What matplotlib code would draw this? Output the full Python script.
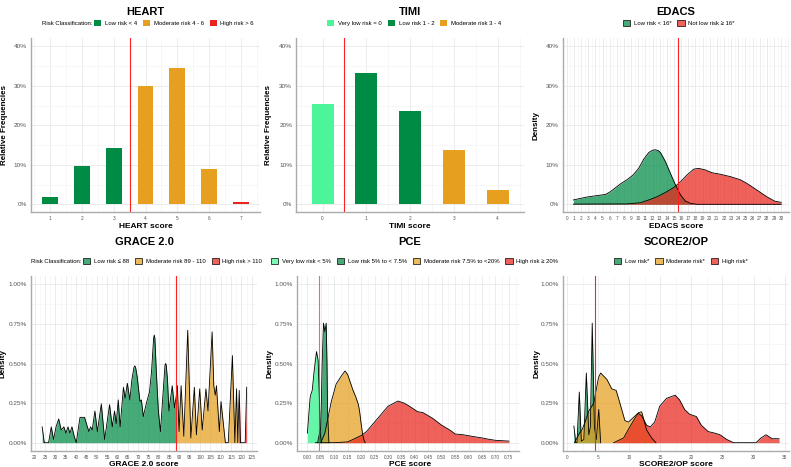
import numpy as np
import matplotlib
matplotlib.use('Agg')
import matplotlib.pyplot as plt
from matplotlib.patches import Patch
from matplotlib.ticker import MultipleLocator, FuncFormatter

plt.rcParams['font.family'] = ['Liberation Sans', 'DejaVu Sans']

# colours used by the risk classes
GREEN = '#008B45'
ORANGE = '#E69F1E'
RED = '#E8251C'
MINT = '#4CF59A'
FILL_ALPHA = 0.72

# ---- HEART (relative frequencies, %) ----
heart_scores = [1, 2, 3, 4, 5, 6, 7]
heart_pct = [1.9, 9.7, 14.3, 29.9, 34.4, 8.9, 0.7]
heart_class = ['low', 'low', 'low', 'mod', 'mod', 'mod', 'high']
heart_cut = 3.5

# ---- TIMI (relative frequencies, %) ----
timi_scores = [0, 1, 2, 3, 4]
timi_pct = [25.4, 33.2, 23.5, 13.8, 3.5]
timi_class = ['vlow', 'low', 'low', 'mod', 'mod']
timi_cut = 0.5

# ---- EDACS densities (%) ----
edacs_low_x = [0.9, 1.9, 3.0, 4.2, 5.4, 6.1, 6.8, 7.6, 8.4, 9.25, 10.05, 10.75, 11.45,
               12.0, 12.4, 12.8, 13.1, 13.8, 14.5, 15.2, 15.9, 16.6, 17.3, 18.2, 30.0]
edacs_low_y = [1.1, 1.5, 1.9, 2.2, 2.5, 3.2, 4.2, 5.3, 6.2, 7.4, 9.1, 11.4, 13.1,
               13.7, 13.8, 13.6, 13.1, 10.8, 7.8, 4.9, 2.4, 0.8, 0.25, 0.0, 0.0]
edacs_high_x = [0.9, 8.4, 10.3, 11.45, 12.6, 13.8, 15.0, 15.9, 16.8, 17.75, 18.45, 19.4,
                20.3, 21.5, 22.9, 24.3, 25.2, 26.2, 27.1, 28.0, 29.1, 30.0]
edacs_high_y = [0.05, 0.1, 0.4, 1.1, 1.9, 3.0, 4.3, 5.7, 7.4, 8.9, 9.1, 8.7,
                8.0, 7.6, 7.0, 6.2, 5.3, 4.1, 3.0, 1.9, 0.8, 0.5]
edacs_cut = 15.5

# ---- GRACE 2.0 density (%) ----
grace_x = [23.6, 24.6, 26.7, 28.0, 29.1, 30.3, 31.6, 32.8, 34.1, 35.1, 36.1, 37.0, 38.0,
           39.1, 40.1, 41.2, 41.9, 44.1, 45.0, 46.2, 47.0, 47.8, 49.1, 50.3, 52.2, 53.8,
           56.2, 57.5, 58.6, 59.4, 60.4, 61.3, 62.9, 63.7, 64.8, 66.0, 67.0, 68.0, 68.4,
           68.8, 69.5, 70.9, 71.6, 72.5, 74.0, 75.5, 76.5, 77.5, 77.8, 78.1, 78.8, 79.8,
           80.8, 82.0, 83.0, 83.3, 83.6, 84.2, 84.9, 86.5, 87.6, 88.5, 89.0, 89.8, 90.8,
           92.1, 94.0, 95.5, 97.2, 98.2, 99.8, 101.0, 102.8, 103.8, 105.8, 106.6, 107.3,
           107.9, 109.3, 110.1, 112.2, 113.6, 115.6, 116.8, 117.6, 118.2, 118.5, 118.9,
           119.5, 121.8, 122.5]
grace_y = [0.10, 0.0, 0.0, 0.10, 0.02, 0.10, 0.15, 0.08, 0.10, 0.06, 0.10, 0.06, 0.10,
           0.04, 0.0, 0.10, 0.16, 0.16, 0.12, 0.07, 0.10, 0.08, 0.20, 0.07, 0.245, 0.02,
           0.24, 0.10, 0.20, 0.12, 0.27, 0.10, 0.35, 0.28, 0.375, 0.27, 0.40, 0.475, 0.485,
           0.475, 0.42, 0.26, 0.27, 0.165, 0.25, 0.32, 0.45, 0.66, 0.68, 0.66, 0.45, 0.20,
           0.07, 0.30, 0.49, 0.50, 0.49, 0.40, 0.20, 0.36, 0.22, 0.30, 0.36, 0.07, 0.36,
           0.04, 0.71, 0.03, 0.35, 0.05, 0.34, 0.08, 0.34, 0.20, 0.70, 0.36, 0.30,
           0.36, 0.07, 0.26, 0.0, 0.0, 0.55, 0.0, 0.34, 0.0, 0.15, 0.33,
           0.0, 0.0, 0.35]
grace_low_max = 88.5
grace_mod_max = 118.5
grace_cut = 88.5

# ---- PCE densities (%) ----
pce_vlow_x = [0.0, 0.01, 0.012, 0.018, 0.025, 0.034, 0.04, 0.044, 0.048, 0.052]
pce_vlow_y = [0.06, 0.28, 0.30, 0.33, 0.45, 0.575, 0.52, 0.31, 0.06, 0.0]
pce_low_x = [0.038, 0.05, 0.055, 0.06, 0.065, 0.07, 0.073, 0.075, 0.08]
pce_low_y = [0.0, 0.1, 0.5, 0.755, 0.70, 0.755, 0.5, 0.2, 0.0]
pce_mod_x = [0.05, 0.065, 0.077, 0.089, 0.107, 0.126, 0.14, 0.15, 0.16, 0.17, 0.18,
             0.19, 0.195, 0.2, 0.205, 0.21, 0.215]
pce_mod_y = [0.0, 0.06, 0.16, 0.26, 0.37, 0.42, 0.453, 0.43, 0.38, 0.33, 0.29,
             0.24, 0.19, 0.12, 0.06, 0.02, 0.0]
pce_high_x = [0.03, 0.1, 0.15, 0.2, 0.22, 0.25, 0.28, 0.3, 0.337, 0.36, 0.38, 0.41,
              0.43, 0.466, 0.5, 0.53, 0.55, 0.58, 0.62, 0.65, 0.68, 0.7, 0.73, 0.75]
pce_high_y = [0.0, 0.0, 0.005, 0.045, 0.07, 0.13, 0.19, 0.23, 0.263, 0.25, 0.23, 0.196,
              0.19, 0.154, 0.11, 0.08, 0.055, 0.05, 0.038, 0.03, 0.02, 0.015, 0.012, 0.01]
pce_cut = 0.044

# ---- SCORE2/OP densities (%) ----
score_low_x = [1.1, 1.4, 1.6, 1.97, 2.3, 2.7, 3.1, 3.5, 3.75, 4.05, 4.4, 4.7, 5.1, 5.4]
score_low_y = [0.105, 0.0, 0.0, 0.32, 0.01, 0.02, 0.44, 0.05, 0.1, 0.755, 0.1, 0.02, 0.21, 0.0]
score_mod_x = [1.2, 2.0, 2.4, 2.9, 3.5, 4.3, 5.05, 5.4, 6.4, 7.2, 7.9, 8.5, 9.3, 9.85,
               10.7, 11.5, 12.0, 12.8, 13.6, 14.3]
score_mod_y = [0.0, 0.06, 0.08, 0.13, 0.2, 0.25, 0.41, 0.44, 0.40, 0.34, 0.33, 0.25, 0.14,
               0.13, 0.16, 0.19, 0.195, 0.08, 0.03, 0.0]
score_high_x = [7.5, 9.1, 10.1, 11.0, 11.5, 12.0, 12.8, 13.4, 14.1, 14.9, 16.0, 17.4, 18.1,
                18.9, 19.7, 20.8, 21.6, 22.7, 23.8, 24.6, 25.7, 26.8, 30.4, 31.2, 32.0,
                33.0, 34.1]
score_high_y = [0.0, 0.03, 0.1, 0.16, 0.185, 0.17, 0.11, 0.10, 0.13, 0.23, 0.28, 0.30, 0.27,
                0.21, 0.18, 0.165, 0.11, 0.07, 0.06, 0.05, 0.02, 0.0, 0.0, 0.03, 0.05,
                0.025, 0.025]
score_cut = 4.5

CLASS_COLORS = {'vlow': MINT, 'low': GREEN, 'mod': ORANGE, 'high': RED}

W, H = 791, 467


def fx(px):
    return px / W


def fy(py):
    return 1 - py / H


def make_axes(fig, left, top, right, bottom):
    ax = fig.add_axes([fx(left), fy(bottom), (right - left) / W, (bottom - top) / H])
    for s in ['top', 'right']:
        ax.spines[s].set_visible(False)
    for s in ['left', 'bottom']:
        ax.spines[s].set_color('#ABABAB')
        ax.spines[s].set_linewidth(1.0)
    ax.grid(which='major', color='#E4E4E4', lw=0.5)
    ax.grid(which='minor', color='#F1F1F1', lw=0.4)
    ax.set_axisbelow(True)
    ax.tick_params(which='both', length=0, colors='#555555')
    ax.tick_params(axis='y', labelsize=4.6, pad=3)
    ax.tick_params(axis='x', labelsize=3.4, pad=3)
    return ax


def pct_fmt(decimals):
    return FuncFormatter(lambda v, p: f'{v:.{decimals}f}%')


def add_texts(fig, title, xlabel, ylabel, cx, title_y, xlabel_y, ylabel_x, mid_y):
    fig.text(fx(cx), fy(title_y), title, ha='center', va='center',
             fontsize=8, fontweight='bold')
    fig.text(fx(cx), fy(xlabel_y), xlabel, ha='center', va='center',
             fontsize=6, fontweight='bold')
    fig.text(fx(ylabel_x), fy(mid_y), ylabel, ha='center', va='center',
             rotation=90, fontsize=5.8, fontweight='bold')


def add_legend(fig, items, key_x, y, edge=None, title=None):
    # density legends get the same transparency as the filled areas
    alpha = FILL_ALPHA if edge else 1
    handles = [Patch(facecolor=matplotlib.colors.to_rgba(c, alpha),
                     edgecolor=edge if edge else c,
                     linewidth=0.5 if edge else 0) for c, _ in items]
    labels = [l for _, l in items]
    fig.legend(handles, labels, loc='center left', bbox_to_anchor=(fx(key_x), fy(y)),
               ncol=len(items), frameon=False, fontsize=4.3, handlelength=1.2,
               handleheight=1.2, handletextpad=0.6, columnspacing=1.0,
               borderpad=0, borderaxespad=0)
    if title:
        fig.text(fx(key_x - 2), fy(y + 0.8), title, ha='right', va='center', fontsize=4.3)


def draw_density(ax, x, y, color, alpha=FILL_ALPHA):
    ax.fill_between(x, y, 0, color=color, alpha=alpha, lw=0)
    ax.plot(x, y, color='black', lw=0.6, solid_joinstyle='round')


fig = plt.figure(figsize=(W / 100, H / 100), dpi=100)

# ================= top row =================
top, bottom = 38.4, 212.2
mid_top = (top + bottom) / 2

# HEART
ax = make_axes(fig, 31, top, 260, bottom)
ax.bar(heart_scores, heart_pct, width=0.5,
       color=[CLASS_COLORS[c] for c in heart_class])
ax.axvline(heart_cut, color='#FF2020', lw=0.8)
ax.set_xlim(0.4, 7.6)
ax.set_ylim(-2, 42)
ax.set_xticks(heart_scores)
ax.xaxis.set_minor_locator(MultipleLocator(0.5))
ax.yaxis.set_major_locator(MultipleLocator(10))
ax.yaxis.set_minor_locator(MultipleLocator(5))
ax.yaxis.set_major_formatter(pct_fmt(0))
add_texts(fig, 'HEART', 'HEART score', 'Relative Frequencies', 145.5, 12, 226, 5, mid_top)
add_legend(fig, [(GREEN, 'Low risk < 4'), (ORANGE, 'Moderate risk 4 - 6'), (RED, 'High risk > 6')],
           94, 22.7, title='Risk Classification:')

# TIMI
ax = make_axes(fig, 296.3, top, 524, bottom)
ax.bar(timi_scores, timi_pct, width=0.5,
       color=[CLASS_COLORS[c] for c in timi_class])
ax.axvline(timi_cut, color='#FF2020', lw=0.8)
ax.set_xlim(-0.6, 4.6)
ax.set_ylim(-2, 42)
ax.set_xticks(timi_scores)
ax.xaxis.set_minor_locator(MultipleLocator(0.5))
ax.yaxis.set_major_locator(MultipleLocator(10))
ax.yaxis.set_minor_locator(MultipleLocator(5))
ax.yaxis.set_major_formatter(pct_fmt(0))
add_texts(fig, 'TIMI', 'TIMI score', 'Relative Frequencies', 410, 12, 226, 269, mid_top)
add_legend(fig, [(MINT, 'Very low risk = 0'), (GREEN, 'Low risk 1 - 2'), (ORANGE, 'Moderate risk 3 - 4')],
           327.3, 22.7)

# EDACS
ax = make_axes(fig, 563, top, 789, bottom)
draw_density(ax, edacs_low_x, edacs_low_y, GREEN)
draw_density(ax, edacs_high_x, edacs_high_y, RED)
ax.axvline(edacs_cut, color='#FF2020', lw=0.8)
ax.set_xlim(-0.55, 31.1)
ax.set_ylim(-2, 42)
ax.set_xticks(range(0, 31))
ax.xaxis.set_minor_locator(MultipleLocator(0.5))
ax.yaxis.set_major_locator(MultipleLocator(10))
ax.yaxis.set_minor_locator(MultipleLocator(5))
ax.yaxis.set_major_formatter(pct_fmt(0))
add_texts(fig, 'EDACS', 'EDACS score', 'Density', 676, 12, 226, 536, mid_top)
add_legend(fig, [(GREEN, 'Low risk < 16*'), (RED, 'Not low risk \u2265 16*')],
           623, 22.7, edge='black')

# ================= bottom row =================
top, bottom = 276.4, 450.6
mid_bot = (top + bottom) / 2

# GRACE 2.0
ax = make_axes(fig, 31, top, 257, bottom)
gx = np.array(grace_x)
gy = np.array(grace_y)
ax.fill_between(gx, gy, 0, where=gx <= grace_low_max, color=GREEN, alpha=FILL_ALPHA, lw=0)
ax.fill_between(gx, gy, 0, where=(gx >= grace_low_max) & (gx <= grace_mod_max),
                color=ORANGE, alpha=FILL_ALPHA, lw=0)
ax.fill_between(gx, gy, 0, where=gx >= grace_mod_max, color=RED, alpha=FILL_ALPHA, lw=0)
ax.plot(gx, gy, color='black', lw=0.6, solid_joinstyle='round')
ax.axvline(grace_cut, color='#FF2020', lw=0.8)
ax.set_xlim(18.2, 127.5)
ax.set_ylim(-0.05, 1.05)
ax.xaxis.set_major_locator(MultipleLocator(5))
ax.xaxis.set_minor_locator(MultipleLocator(2.5))
ax.yaxis.set_major_locator(MultipleLocator(0.25))
ax.yaxis.set_minor_locator(MultipleLocator(0.125))
ax.yaxis.set_major_formatter(pct_fmt(2))
add_texts(fig, 'GRACE 2.0', 'GRACE 2.0 score', 'Density', 144, 242.3, 464.3, 3.5, mid_bot)
add_legend(fig, [(GREEN, 'Low risk \u2264 88'), (ORANGE, 'Moderate risk 89 - 110'),
                 (RED, 'High risk > 110')], 83.3, 260.7, edge='black',
           title='Risk Classification:')

# PCE
ax = make_axes(fig, 297.3, top, 519, bottom)
draw_density(ax, pce_vlow_x, pce_vlow_y, MINT, alpha=0.85)
draw_density(ax, pce_low_x, pce_low_y, GREEN)
draw_density(ax, pce_mod_x, pce_mod_y, ORANGE)
draw_density(ax, pce_high_x, pce_high_y, RED)
ax.axvline(pce_cut, color='#FF2020', lw=0.8, alpha=0.7)
ax.set_xlim(-0.0375, 0.7875)
ax.set_ylim(-0.05, 1.05)
ax.xaxis.set_major_locator(MultipleLocator(0.05))
ax.xaxis.set_minor_locator(MultipleLocator(0.025))
ax.xaxis.set_major_formatter(FuncFormatter(lambda v, p: f'{v:.2f}'))
ax.yaxis.set_major_locator(MultipleLocator(0.25))
ax.yaxis.set_minor_locator(MultipleLocator(0.125))
ax.yaxis.set_major_formatter(pct_fmt(2))
add_texts(fig, 'PCE', 'PCE score', 'Density', 410, 242.3, 464.3, 270, mid_bot)
add_legend(fig, [(MINT, 'Very low risk < 5%'), (GREEN, 'Low risk 5% to < 7.5%'),
                 (ORANGE, 'Moderate risk 7.5% to <20%'), (RED, 'High risk \u2265 20%')],
           271.3, 260.7, edge='black')

# SCORE2/OP
ax = make_axes(fig, 563, top, 788.7, bottom)
draw_density(ax, score_low_x, score_low_y, GREEN)
draw_density(ax, score_mod_x, score_mod_y, ORANGE)
draw_density(ax, score_high_x, score_high_y, RED)
ax.axvline(score_cut, color='#FF2020', lw=0.8)
ax.set_xlim(-0.65, 35.65)
ax.set_ylim(-0.05, 1.05)
ax.xaxis.set_major_locator(MultipleLocator(5))
ax.xaxis.set_minor_locator(MultipleLocator(2.5))
ax.yaxis.set_major_locator(MultipleLocator(0.25))
ax.yaxis.set_minor_locator(MultipleLocator(0.125))
ax.yaxis.set_major_formatter(pct_fmt(2))
add_texts(fig, 'SCORE2/OP', 'SCORE2/OP score', 'Density', 676, 242.3, 464.3, 537, mid_bot)
add_legend(fig, [(GREEN, 'Low risk*'), (ORANGE, 'Moderate risk*'), (RED, 'High risk*')],
           614.3, 260.7, edge='black')

fig.savefig('out.png', dpi=100)
